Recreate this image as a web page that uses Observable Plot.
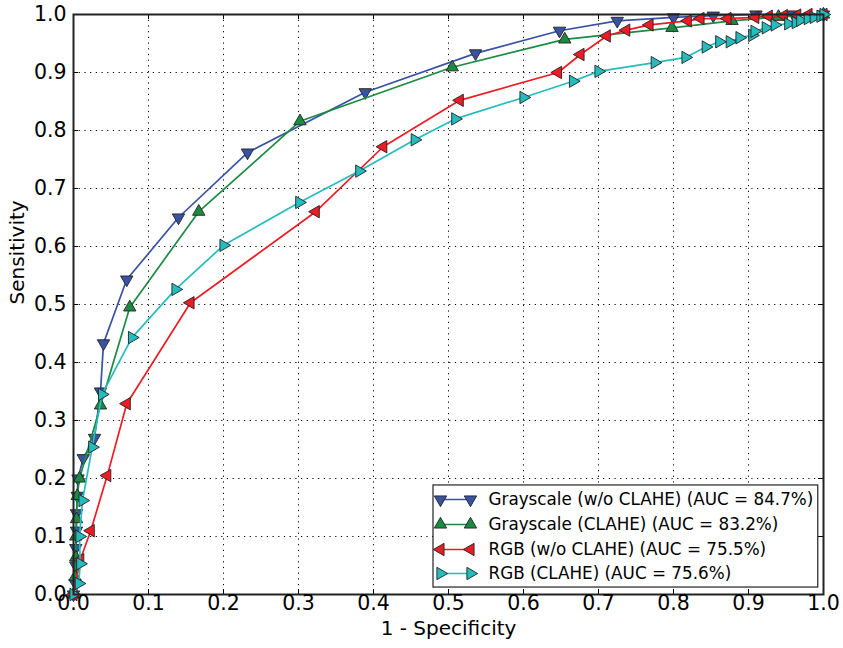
<!DOCTYPE html>
<html>
<head>
<meta charset="utf-8">
<script src="https://cdn.jsdelivr.net/npm/d3@7"></script>
<script src="https://cdn.jsdelivr.net/npm/@observablehq/plot@0.6"></script>
<style>
  html, body { margin: 0; padding: 0; background: white; }
</style>
</head>
<body>
<div id="chart"></div>
<script>
// ---- data ----
const seriesNames = [
  "Grayscale (w/o CLAHE) (AUC = 84.7%)",
  "Grayscale (CLAHE) (AUC = 83.2%)",
  "RGB (w/o CLAHE) (AUC = 75.5%)",
  "RGB (CLAHE) (AUC = 75.6%)"
];

const grayNoX = [0, 0.002, 0.003, 0.003, 0.004, 0.004, 0.005, 0.006, 0.013, 0.028, 0.036, 0.040, 0.071, 0.140, 0.232, 0.389, 0.536, 0.648, 0.725, 0.800, 0.853, 0.910, 0.960, 1.0];
const grayNoY = [0, 0.02, 0.05, 0.08, 0.11, 0.14, 0.17, 0.20, 0.235, 0.27, 0.35, 0.433, 0.543, 0.65, 0.762, 0.866, 0.933, 0.972, 0.989, 0.995, 0.998, 1, 1, 1];

const grayClX = [0, 0.002, 0.003, 0.003, 0.004, 0.005, 0.008, 0.036, 0.075, 0.167, 0.302, 0.505, 0.655, 0.798, 0.878, 0.940, 1.0];
const grayClY = [0, 0.03, 0.064, 0.10, 0.13, 0.17, 0.20, 0.326, 0.495, 0.66, 0.816, 0.909, 0.957, 0.977, 0.989, 0.996, 1];

const rgbNoX = [0, 0.009, 0.023, 0.045, 0.071, 0.156, 0.323, 0.413, 0.515, 0.646, 0.676, 0.711, 0.737, 0.768, 0.819, 0.836, 0.872, 0.909, 0.927, 0.947, 0.965, 0.980, 1.0];
const rgbNoY = [0, 0.06, 0.11, 0.205, 0.329, 0.503, 0.66, 0.772, 0.852, 0.90, 0.931, 0.963, 0.973, 0.982, 0.989, 0.993, 0.993, 0.995, 0.997, 0.998, 0.999, 1, 1];

const rgbClX = [0, 0.007, 0.009, 0.008, 0.012, 0.025, 0.038, 0.078, 0.136, 0.200, 0.301, 0.381, 0.455, 0.509, 0.600, 0.666, 0.700, 0.775, 0.816, 0.843, 0.861, 0.875, 0.888, 0.905, 0.908, 0.923, 0.935, 0.953, 0.963, 0.969, 0.979, 0.987, 0.996, 1.0];
const rgbClY = [0, 0.019, 0.053, 0.10, 0.162, 0.254, 0.345, 0.443, 0.526, 0.602, 0.676, 0.73, 0.784, 0.82, 0.857, 0.885, 0.902, 0.917, 0.926, 0.944, 0.953, 0.953, 0.96, 0.964, 0.971, 0.977, 0.982, 0.984, 0.986, 0.99, 0.993, 0.995, 0.997, 1];

const xTicks = [0, 0.1, 0.2, 0.3, 0.4, 0.5, 0.6, 0.7, 0.8, 0.9, 1.0];
const yTicks = [0, 0.1, 0.2, 0.3, 0.4, 0.5, 0.6, 0.7, 0.8, 0.9, 1.0];

// ---- styling ----
const colors = ["#3953a4", "#1b8a43", "#ed1c24", "#25bcbd"];
const rotations = [180, 0, -90, 90]; // down, up, left, right triangles

const series = [
  [grayNoX, grayNoY],
  [grayClX, grayClY],
  [rgbNoX, rgbNoY],
  [rgbClX, rgbClY]
].map(([xs, ys], i) => xs.map((x, j) => ({x, y: ys[j], i})));

const W = 843, H = 648;
const mL = 73, mR = 20, mT = 14, mB = 54;
const plotH = H - mT - mB, plotW = W - mL - mR;
const tickLenY = 5 / plotH, tickLenX = 5 / plotW;
const fmt = d3.format(".1f");

const marks = [];
// dotted grid
marks.push(Plot.ruleX(xTicks.slice(1, -1), {stroke: "black", strokeWidth: 1, strokeDasharray: "1.2,4.5"}));
marks.push(Plot.ruleY(yTicks.slice(1, -1), {stroke: "black", strokeWidth: 1, strokeDasharray: "1.2,4.5"}));
// inward ticks on all four sides
marks.push(Plot.ruleX(xTicks, {y1: 0, y2: tickLenY, stroke: "black", strokeWidth: 1}));
marks.push(Plot.ruleX(xTicks, {y1: 1 - tickLenY, y2: 1, stroke: "black", strokeWidth: 1}));
marks.push(Plot.ruleY(yTicks, {x1: 0, x2: tickLenX, stroke: "black", strokeWidth: 1}));
marks.push(Plot.ruleY(yTicks, {x1: 1 - tickLenX, x2: 1, stroke: "black", strokeWidth: 1}));

// series lines + markers
series.forEach((data, i) => {
  marks.push(Plot.line(data, {x: "x", y: "y", stroke: colors[i], strokeWidth: 1.7}));
  marks.push(Plot.dot(data, {x: "x", y: "y", symbol: "triangle", r: 4.6, rotate: rotations[i],
    fill: colors[i], stroke: "#222", strokeWidth: 0.9}));
});

// frame
marks.push(Plot.frame({stroke: "#222", strokeWidth: 2}));

// tick labels
marks.push(Plot.text(xTicks, {x: d => d, frameAnchor: "bottom", dy: 15, text: d => fmt(d), fontSize: 20.5, fill: "black"}));
marks.push(Plot.text(yTicks, {y: d => d, frameAnchor: "left", dx: -7, textAnchor: "end", text: d => fmt(d), fontSize: 20.5, fill: "black"}));
// axis titles
marks.push(Plot.text(["1 - Specificity"], {frameAnchor: "bottom", dy: 40, fontSize: 20, fill: "black"}));
marks.push(Plot.text(["Sensitivity"], {frameAnchor: "left", dx: -56, rotate: -90, fontSize: 20, fill: "black"}));

// legend (inside the plot, lower right)
const legX1 = 0.48, legX2 = 0.993, legY1 = 0.012, legY2 = 0.188;
const rowY = [0.1638, 0.1207, 0.0776, 0.0362];
const sampleX1 = 0.4893, sampleX2 = 0.5293, textX = 0.5533;
marks.push(Plot.rect([0], {x1: legX1, x2: legX2, y1: legY1, y2: legY2, fill: "white", stroke: "#222", strokeWidth: 1.2}));
seriesNames.forEach((name, i) => {
  const pts = [{x: sampleX1, y: rowY[i]}, {x: sampleX2, y: rowY[i]}];
  marks.push(Plot.line(pts, {x: "x", y: "y", stroke: colors[i], strokeWidth: 1.7}));
  marks.push(Plot.dot(pts, {x: "x", y: "y", symbol: "triangle", r: 4.6, rotate: rotations[i],
    fill: colors[i], stroke: "#222", strokeWidth: 0.9}));
  marks.push(Plot.text([name], {x: textX, y: rowY[i], textAnchor: "start", fontSize: 16.8, fill: "black"}));
});

const chart = Plot.plot({
  width: W,
  height: H,
  marginLeft: mL,
  marginRight: mR,
  marginTop: mT,
  marginBottom: mB,
  x: {domain: [0, 1], axis: null},
  y: {domain: [0, 1], axis: null},
  style: {fontFamily: "DejaVu Sans", fontSize: "19px", background: "white", color: "black", overflow: "visible"},
  marks
});
document.getElementById("chart").appendChild(chart);
</script>
</body>
</html>
